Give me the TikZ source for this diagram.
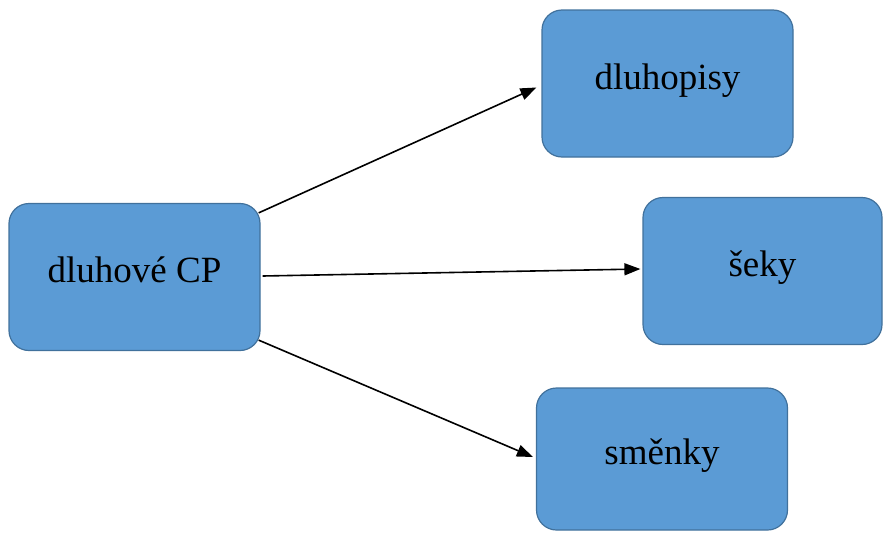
\documentclass[tikz,border=0pt]{standalone}
\usepackage{fontspec}
\setmainfont{Liberation Serif}
\usetikzlibrary{arrows.meta,calc}
\definecolor{boxfill}{HTML}{5B9BD5}
\definecolor{boxline}{HTML}{41719C}
\tikzset{
  cpbox/.style={draw=boxline, fill=boxfill, line width=1.2pt, rounded corners=20pt,
    minimum width=251pt, minimum height=147pt, inner sep=0pt,
    font=\fontsize{37}{44}\selectfont},
  conn/.style={line width=1.6pt, -{Triangle[length=16pt,width=12pt]}}
}
\begin{document}
\begin{tikzpicture}[x=1pt,y=-1pt]
\useasboundingbox (0,0) rectangle (883,533);
\node[cpbox] (cp) at (134.5,277) {\raisebox{14pt}{dluhové CP}};
\node[cpbox] (dluh) at (667.5,83.5) {\raisebox{14pt}{dluhopisy}};
\node[cpbox, minimum width=239pt] (seky) at (762.5,271) {\raisebox{14pt}{šeky}};
\node[cpbox, minimum height=142pt] (smenky) at (662,459) {\raisebox{14pt}{směnky}};
\draw[conn] ($(cp.north east)+(-2,10)$) -- ($(dluh.west)+(-5,4)$);
\draw[conn] ($(cp.east)+(2,-1)$) -- ($(seky.west)+(-2,-2)$);
\draw[conn] ($(cp.south east)+(-2,-11)$) -- ($(smenky.west)+(-3,-2)$);
\end{tikzpicture}
\end{document}
